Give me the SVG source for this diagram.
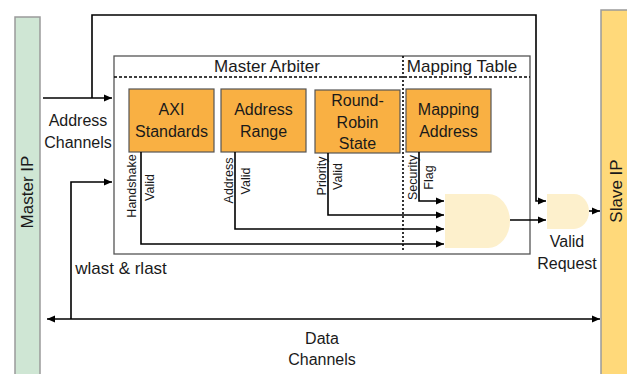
<svg xmlns="http://www.w3.org/2000/svg" width="627" height="374" viewBox="0 0 627 374">
  <defs>
    <marker id="arrow" markerUnits="userSpaceOnUse" markerWidth="9" markerHeight="8" refX="8" refY="4" orient="auto-start-reverse">
      <path d="M0,0.5 L8,4 L0,7.5 Z" fill="#000"/>
    </marker>
    <style>
      text { font-family: "Liberation Sans", Arial, sans-serif; fill: #1a1a1a; }
      .lbl { font-size: 16px; text-anchor: middle; }
      .hdr { font-size: 17px; text-anchor: middle; }
      .sig { font-size: 12.5px; text-anchor: middle; }
      .block { fill: #f9b043; stroke: #555; stroke-width: 1.2; }
      .gate { fill: #fdf0cc; stroke: none; }
      .wire { fill: none; stroke: #000; stroke-width: 1.6; }
      .arr { marker-end: url(#arrow); }
    </style>
  </defs>

  <rect width="627" height="374" fill="#fff"/>

  <!-- Master IP bus bar -->
  <g id="master-ip">
    <rect x="15" y="17" width="25" height="365" fill="#cfe6d4" stroke="#9a9a9a" stroke-width="1.5"/>
    <text class="hdr" transform="translate(33,192) rotate(-90)">Master IP</text>
  </g>

  <!-- Slave IP bus bar -->
  <g id="slave-ip">
    <rect x="601" y="10" width="30" height="372" fill="#ffd97a" stroke="#9a9a9a" stroke-width="1.5"/>
    <text class="hdr" transform="translate(622,191) rotate(-90)">Slave IP</text>
  </g>

  <!-- Arbiter enclosure with its two sections -->
  <g id="master-arbiter">
    <rect x="114" y="56" width="416" height="198" fill="none" stroke="#555" stroke-width="1.3"/>
    <line x1="114" y1="77" x2="530" y2="77" stroke="#000" stroke-width="1.5" stroke-dasharray="3 2"/>
    <line x1="403" y1="56" x2="403" y2="251" stroke="#000" stroke-width="1.6" stroke-dasharray="2 2"/>
    <text class="hdr" x="267" y="72">Master Arbiter</text>
    <text class="hdr" x="462" y="72">Mapping Table</text>
  </g>

  <g id="axi-standards">
    <rect class="block" x="129" y="89" width="85" height="63"/>
    <text class="lbl" x="171.5" y="115">AXI</text>
    <text class="lbl" x="171.5" y="137">Standards</text>
  </g>

  <g id="address-range">
    <rect class="block" x="221" y="89" width="85" height="63"/>
    <text class="lbl" x="263.5" y="115">Address</text>
    <text class="lbl" x="263.5" y="137">Range</text>
  </g>

  <g id="round-robin-state">
    <rect class="block" x="315" y="90" width="85" height="63"/>
    <text class="lbl" x="357.5" y="106">Round-</text>
    <text class="lbl" x="357.5" y="127.5">Robin</text>
    <text class="lbl" x="357.5" y="149">State</text>
  </g>

  <g id="mapping-address">
    <rect class="block" x="406" y="89" width="85" height="63"/>
    <text class="lbl" x="448.5" y="115">Mapping</text>
    <text class="lbl" x="448.5" y="137">Address</text>
  </g>

  <!-- AND gate combining the arbiter checks -->
  <g id="and-gate">
    <path class="gate" d="M445,194 H488 A22,27 0 0 1 488,248 H445 Z"/>
  </g>

  <!-- Final AND gate producing the valid request -->
  <g id="valid-request">
    <path class="gate" d="M547,194 H574 A15,17.5 0 0 1 574,229 H547 Z"/>
    <text class="lbl" x="567" y="247">Valid</text>
    <text class="lbl" x="567" y="269">Request</text>
  </g>

  <!-- Wires and channels -->
  <g id="connectors">
    <path class="wire arr" d="M43,98 H112"/>
    <path class="wire arr" d="M92,98 V15 H536 V201 H546"/>
    <path class="wire arr" d="M71,319 V182 H112"/>
    <path class="wire arr" d="M47,319 H600" marker-start="url(#arrow)"/>
    <path class="wire arr" d="M141,152 V244 H444"/>
    <path class="wire arr" d="M235,152 V229 H444"/>
    <path class="wire arr" d="M328,153 V215 H444"/>
    <path class="wire arr" d="M419,152 V201 H444"/>
    <path class="wire arr" d="M510,220 H546"/>
    <path class="wire arr" d="M589,211 H600"/>

    <text class="lbl" x="78" y="126">Address</text>
    <text class="lbl" x="78" y="148">Channels</text>
    <text class="hdr" x="121" y="274">wlast &amp; rlast</text>
    <text class="lbl" x="322" y="344">Data</text>
    <text class="lbl" x="322" y="365">Channels</text>

    <text class="sig" transform="translate(136,186) rotate(-90)">Handshake</text>
    <text class="sig" transform="translate(153.5,187.5) rotate(-90)">Valid</text>
    <text class="sig" transform="translate(232.5,180.5) rotate(-90)">Address</text>
    <text class="sig" transform="translate(249.5,181) rotate(-90)">Valid</text>
    <text class="sig" transform="translate(325.5,176) rotate(-90)">Priority</text>
    <text class="sig" transform="translate(341.5,176.5) rotate(-90)">Valid</text>
    <text class="sig" transform="translate(416.5,177.5) rotate(-90)">Security</text>
    <text class="sig" transform="translate(432.5,177.5) rotate(-90)">Flag</text>
  </g>
</svg>
